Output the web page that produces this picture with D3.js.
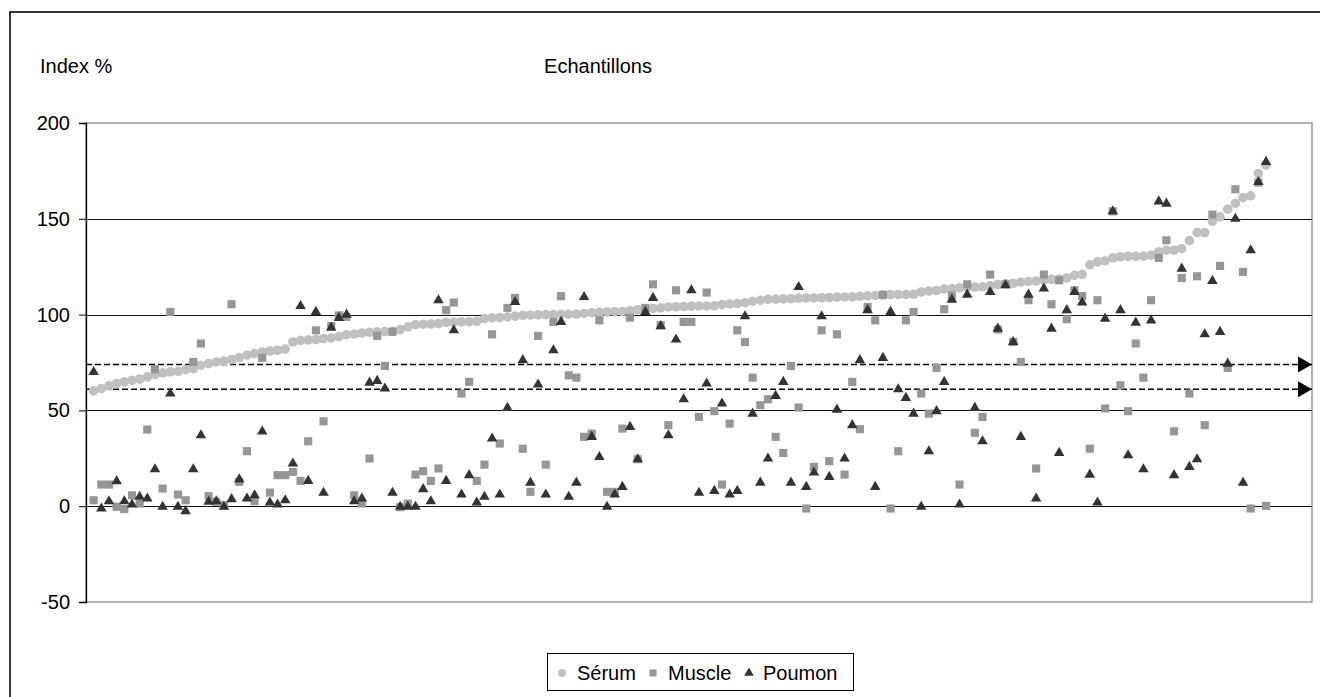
<!DOCTYPE html>
<html><head><meta charset="utf-8">
<script src="https://cdn.jsdelivr.net/npm/d3@7"></script>
<style>
html,body{margin:0;padding:0;background:#fff;}
svg{display:block;font-family:"Liberation Sans",Arial,sans-serif;}
</style></head>
<body>
<svg id="chart" width="1320" height="697"></svg>
<script>
const serum = [60.2,61.4,62.8,64,64.9,65.7,66.3,67.5,68.7,69.6,
70.1,70.4,71.3,71.8,73.6,74.4,75.3,75.7,76.5,77.6,
78.8,79.7,80.5,81,81.4,82,85.7,86.6,86.8,87,
87.5,87.8,88.5,89.5,89.8,90.4,90.8,91,91.1,91.3,
92.2,93.6,94.8,95,95.1,95.3,96,96.1,96.2,96.3,
96.5,98,98.3,98.4,98.8,99.2,99.6,99.8,99.9,100,
100,100.1,100.2,100.3,100.6,101,101.2,101.4,101.5,101.6,
102,102.5,103,103.2,103.5,104,104.1,104.2,104.4,104.5,
104.5,104.6,105.2,105.6,105.8,106.2,107,107.5,108,108.1,
108.2,108.3,108.5,108.6,108.7,108.8,108.9,109.1,109.2,109.3,
109.5,109.8,110,110.2,110.4,110.4,110.5,110.6,111.8,112.3,
112.6,113.4,113.6,114,114.4,114.4,114.5,115,115.7,116.1,
116.3,117,117.3,117.5,117.9,118.4,118.5,119.1,120.5,121,
126,127.5,128,129.6,130.2,130.4,130.4,130.5,131,132.7,
133.6,133.6,134.4,138.6,142.8,142.8,148.7,151,155,158,
161,162,173.6,178];

const muscle = [3.1,11.3,11.3,-0.3,-1.5,5.7,1.4,40,71.5,9.2,
101.4,6.1,3.1,75.3,84.9,5.2,2.3,0.5,105.4,12.7,
28.7,2.6,77.4,7.1,16.2,16.2,17.9,13.2,33.9,91.8,
44.3,94,99.6,98.8,5.7,1.4,24.9,88.9,73.2,91,
-0.5,1.4,16.5,18.3,13.2,19.7,102.3,106.3,58.8,64.9,
13.2,21.7,89.7,32.7,103.5,108.7,30,7.5,88.9,21.7,
96.2,109.6,68.3,67.1,36.2,37.9,97,7.5,7.5,40.5,
98.4,24.5,103.5,115.8,94.5,42.3,112.7,96.2,96.2,46.6,
111.5,49.6,11.3,43.1,91.8,85.7,67.1,52.7,55.8,36.2,
27.8,73.2,51.5,-1.2,20.5,91.8,23.5,89.7,16.5,64.9,
40.2,104,97,110.4,-1.2,28.7,97,101.4,58.8,48.3,
72.2,102.8,110,11.3,115.8,38.3,46.6,120.9,92.2,115.8,
85.7,75.3,107.5,19.7,120.9,105.4,117.9,97.6,112.7,109.7,
30,107.5,51,153.9,63.1,49.6,84.9,67.1,107.5,129.6,
138.8,39.1,119.1,58.8,120,42.3,152.2,125.4,72.2,165.4,
122.3,-1.2,168.9,0.2];

const poumon = [70,-1.2,2.6,13,2.6,0.9,4.9,4,19.3,-0.3,
58.8,-0.3,-2.6,19.3,37,2.3,2.6,-0.3,3.7,14,
4,5.7,39,1.9,0.9,3.1,22.3,104.5,13.2,101.4,
7,93.2,98.3,100,2.6,4,64.5,65.4,61.4,7,
-0.3,-0.3,-0.3,8.9,2.6,107.5,13.2,91.8,6.1,16.2,
1.9,4.9,35.3,6.1,51.3,106.6,76.2,12.3,63.5,6.1,
81.4,96.2,4.9,12.3,109.2,36.2,25.7,-0.3,6.1,10.1,
41.4,24.5,101.4,108.7,94,37,87,55.8,112.7,7,
64,8,53.6,6.1,8,99.1,48.3,12.3,24.9,57.6,
64.9,12.3,114.4,10.1,17.6,99.1,15.3,50.4,24.9,42.3,
76.2,102.3,10.1,77.4,101.4,61,56.5,48.3,-0.3,28.7,
49.6,64.9,107.8,0.9,110.4,51.3,33.9,111.8,92.7,115.3,
85.7,36.2,110.4,4,113.6,92.7,27.8,102.3,111.8,106.3,
16.5,1.9,97.9,153.9,102.3,26.6,95.8,19.3,97,159.1,
157.9,16.2,124,20.5,24.5,89.7,117.6,91,74.4,150,
12.2,133.6,169.2,179.7];

const yTicks = [-50, 0, 50, 100, 150, 200];
const yTickLabels = ["-50", "0", "50", "100", "150", "200"];
const refLines = [74, 61];
const seriesNames = ["Sérum", "Muscle", "Poumon"];
const seriesColors = ["#c0c0c0", "#969696", "#333333"];
const yTitle = "Index %";
const xTitle = "Echantillons";

const svg = d3.select("#chart");
const L = 86, R = 1312, T = 123, B = 602;
const x = d3.scaleLinear().domain([-1, 159]).range([L, R]);
const y = d3.scaleLinear().domain([-50, 200]).range([B, T]);

// outer chart border
svg.append("rect").attr("x", 10).attr("y", 12).attr("width", 1330).attr("height", 700)
  .attr("fill", "#fff").attr("stroke", "#000").attr("stroke-width", 1.6);

// plot area border
svg.append("rect").attr("x", L).attr("y", T).attr("width", R - L).attr("height", B - T)
  .attr("fill", "none").attr("stroke", "#808080").attr("stroke-width", 1.2);

// gridlines
svg.append("g").selectAll("line").data(yTicks.filter(v => v > -50 && v < 200)).join("line")
  .attr("x1", L).attr("x2", R)
  .attr("y1", d => Math.round(y(d)) + 0.5).attr("y2", d => Math.round(y(d)) + 0.5)
  .attr("stroke", "#111").attr("stroke-width", 1);

// y axis
const yAxis = d3.axisLeft(y).tickValues(yTicks).tickSize(7).tickPadding(9)
  .tickFormat((d, i) => yTickLabels[i]);
const gy = svg.append("g").attr("transform", `translate(${L},0)`).call(yAxis);
gy.select(".domain").attr("stroke", "#000").attr("stroke-width", 1.3);
gy.selectAll(".tick line").attr("stroke", "#000");
gy.selectAll(".tick text").attr("font-size", 20).attr("fill", "#000")
  .attr("font-family", "'Liberation Sans', Arial, sans-serif");

// titles
svg.append("text").attr("x", 40).attr("y", 73).attr("font-size", 20).text(yTitle);
svg.append("text").attr("x", 598).attr("y", 73).attr("font-size", 20).attr("text-anchor", "middle").text(xTitle);

// reference dashed lines with arrows
const defs = svg.append("defs");
defs.append("marker").attr("id", "arr").attr("viewBox", "0 0 14 16")
  .attr("refX", 14).attr("refY", 8).attr("markerWidth", 14).attr("markerHeight", 16)
  .attr("markerUnits", "userSpaceOnUse").attr("orient", "auto")
  .append("path").attr("d", "M0,0 L14,8 L0,16 Z").attr("fill", "#000");
svg.append("g").selectAll("line").data(refLines).join("line")
  .attr("x1", L).attr("x2", R)
  .attr("y1", d => y(d)).attr("y2", d => y(d))
  .attr("stroke", "#000").attr("stroke-width", 1.5).attr("stroke-dasharray", "6,3")
  .attr("marker-end", "url(#arr)");

const idx = d3.range(serum.length);
const gS = svg.append("g");
gS.selectAll("circle").data(idx).join("circle")
  .attr("cx", i => x(i)).attr("cy", i => y(serum[i])).attr("r", 4.8)
  .attr("fill", seriesColors[0]);

const sq = d3.symbol(d3.symbolSquare, 66);
svg.append("g").selectAll("path").data(idx).join("path")
  .attr("d", sq)
  .attr("transform", i => `translate(${x(i)},${y(muscle[i])})`)
  .attr("fill", seriesColors[1]);

const tri = d3.symbol(d3.symbolTriangle, 48);
svg.append("g").selectAll("path").data(idx).join("path")
  .attr("d", tri)
  .attr("transform", i => `translate(${x(i)},${y(poumon[i])})`)
  .attr("fill", seriesColors[2]);

// legend
const lg = svg.append("g");
lg.append("rect").attr("x", 547.5).attr("y", 653.5).attr("width", 306).attr("height", 37)
  .attr("fill", "#fff").attr("stroke", "#000").attr("stroke-width", 1);
const legendItems = [
  {name: seriesNames[0], mx: 562, tx: 577, sym: d3.symbolCircle, size: 50, color: seriesColors[0]},
  {name: seriesNames[1], mx: 653, tx: 668, sym: d3.symbolSquare, size: 50, color: seriesColors[1]},
  {name: seriesNames[2], mx: 749, tx: 763, sym: d3.symbolTriangle, size: 40, color: seriesColors[2]}
];
legendItems.forEach(it => {
  lg.append("path").attr("d", d3.symbol(it.sym, it.size)).attr("transform", `translate(${it.mx},673)`)
    .attr("fill", it.color);
  lg.append("text").attr("x", it.tx).attr("y", 679.5).attr("font-size", 20).text(it.name);
});
</script>
</body></html>
